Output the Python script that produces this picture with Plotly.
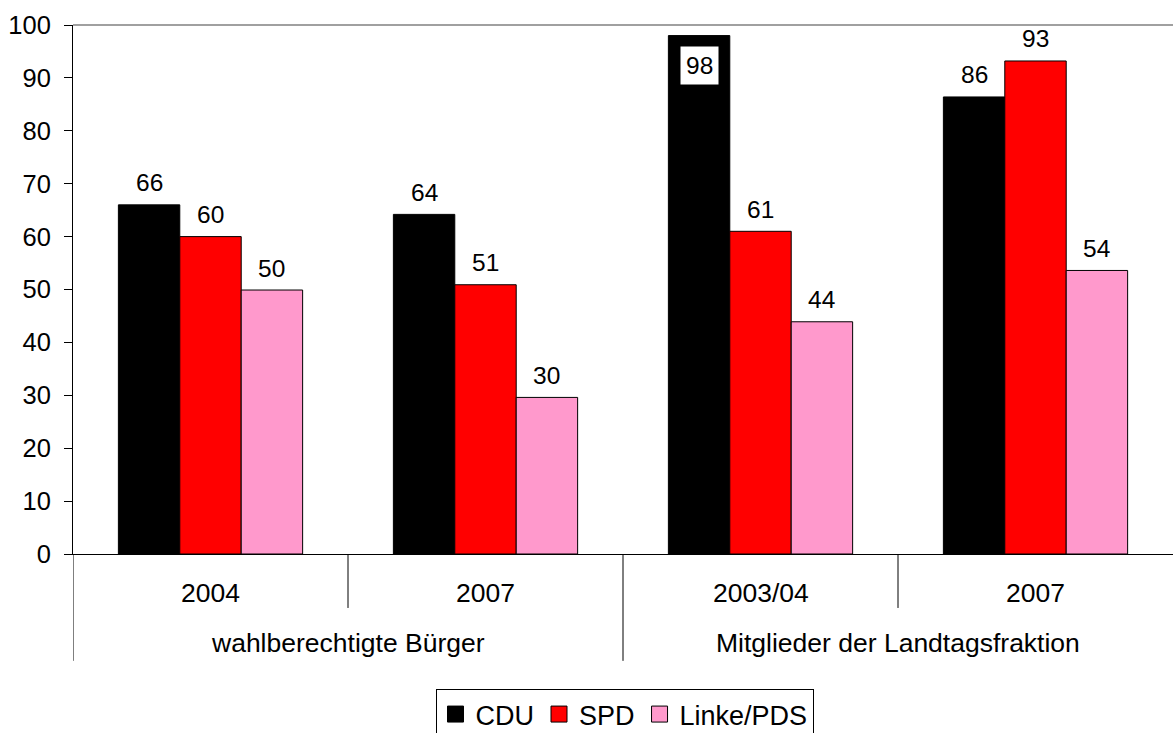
import plotly.graph_objects as go

groups = ["wahlberechtigte Bürger", "Mitglieder der Landtagsfraktion"]
years = ["2004", "2007", "2003/04", "2007"]
parties = ["CDU", "SPD", "Linke/PDS"]
cdu = [66.0, 64.2, 98.0, 86.4]
spd = [60.0, 50.9, 61.0, 93.2]
linke = [49.9, 29.6, 43.9, 53.6]
colors = ["#000000", "#FF0000", "#FF99CC"]

series = [cdu, spd, linke]
FONT = "Liberation Sans, Arial, sans-serif"
FS_DATA = 24.5
FS_CAT = 26.5
FS_TICK = 25.5
FS_LEG = 27
bargap = 0.33
xpos = [i + 0.5 for i in range(len(years))]

fig = go.Figure()
for name, vals, col in zip(parties, series, colors):
    fig.add_trace(go.Bar(
        x=xpos, y=vals, name=name, legendgroup=name, showlegend=False,
        marker=dict(color=col, line=dict(color="#000000", width=1)),
        hoverinfo="y+name",
    ))
# legend entries with larger square swatches
for name, col in zip(parties, colors):
    fig.add_trace(go.Scatter(
        x=[None], y=[None], mode="markers", name=name, legendgroup=name,
        marker=dict(symbol="square", size=16, color=col,
                    line=dict(color="#000000", width=1)),
        hoverinfo="skip",
    ))

bw = (1 - bargap) / len(parties)
annotations = []
for si, vals in enumerate(series):
    off = (si - (len(parties) - 1) / 2) * bw
    for gi, v in enumerate(vals):
        if v > 95:
            annotations.append(dict(
                x=xpos[gi] + off, y=v, xref="x", yref="y", text=str(round(v)),
                showarrow=False, yanchor="middle", yshift=-30,
                bgcolor="#FFFFFF", borderpad=5,
                font=dict(family=FONT, size=FS_DATA, color="#000000")))
        else:
            annotations.append(dict(
                x=xpos[gi] + off, y=v, xref="x", yref="y", text=str(round(v)),
                showarrow=False, yanchor="middle", yshift=22,
                font=dict(family=FONT, size=FS_DATA, color="#000000")))

# category labels (years)
for gi, yr in enumerate(years):
    annotations.append(dict(
        x=xpos[gi], y=-0.0737, xref="x", yref="paper", text=yr,
        showarrow=False, yanchor="middle",
        font=dict(family=FONT, size=FS_CAT, color="#000000")))
# group labels
for gi, g in enumerate(groups):
    annotations.append(dict(
        x=1 + 2 * gi, y=-0.168, xref="x", yref="paper", text=g,
        showarrow=False, yanchor="middle",
        font=dict(family=FONT, size=FS_CAT, color="#000000")))

shapes = []
for xv, depth in [(0, -0.202), (1, -0.102), (2, -0.202), (3, -0.102)]:
    shapes.append(dict(type="line", xref="x", yref="paper", x0=xv, x1=xv,
                       y0=0, y1=depth, line=dict(color="#000000", width=1)))
# top frame line
shapes.append(dict(type="line", xref="paper", yref="paper", x0=0, x1=1,
                   y0=1, y1=1, line=dict(color="#808080", width=1.5)))

fig.update_layout(
    width=1173, height=733,
    margin=dict(l=73, r=0, t=25, b=179),
    plot_bgcolor="#FFFFFF", paper_bgcolor="#FFFFFF",
    barmode="group", bargap=bargap, bargroupgap=0,
    font=dict(family=FONT, size=FS_CAT, color="#000000"),
    xaxis=dict(range=[0, 4], showticklabels=False, showgrid=False, zeroline=False,
               showline=True, linecolor="#000000", linewidth=1, ticks="", fixedrange=True),
    yaxis=dict(range=[0, 100], dtick=10, tick0=0, showgrid=False, zeroline=False,
               showline=True, linecolor="#000000", linewidth=1,
               ticks="outside", ticklen=8, tickcolor="#000000", tickwidth=1,
               ticklabelstandoff=8,
               tickfont=dict(family=FONT, size=FS_TICK, color="#000000"), fixedrange=True),
    legend=dict(orientation="h", xref="container", yref="container",
                x=0.5324, xanchor="center", y=0.060, yanchor="top",
                bordercolor="#000000", borderwidth=1, bgcolor="#FFFFFF",
                font=dict(family=FONT, size=FS_LEG, color="#000000"),
                itemwidth=30, itemsizing="trace", tracegroupgap=0),
    annotations=annotations,
    shapes=shapes,
    showlegend=True,
)

fig.write_html("out.html", config={"displayModeBar": False},
               post_script="document.body.style.margin='0';document.body.style.overflow='hidden';")
